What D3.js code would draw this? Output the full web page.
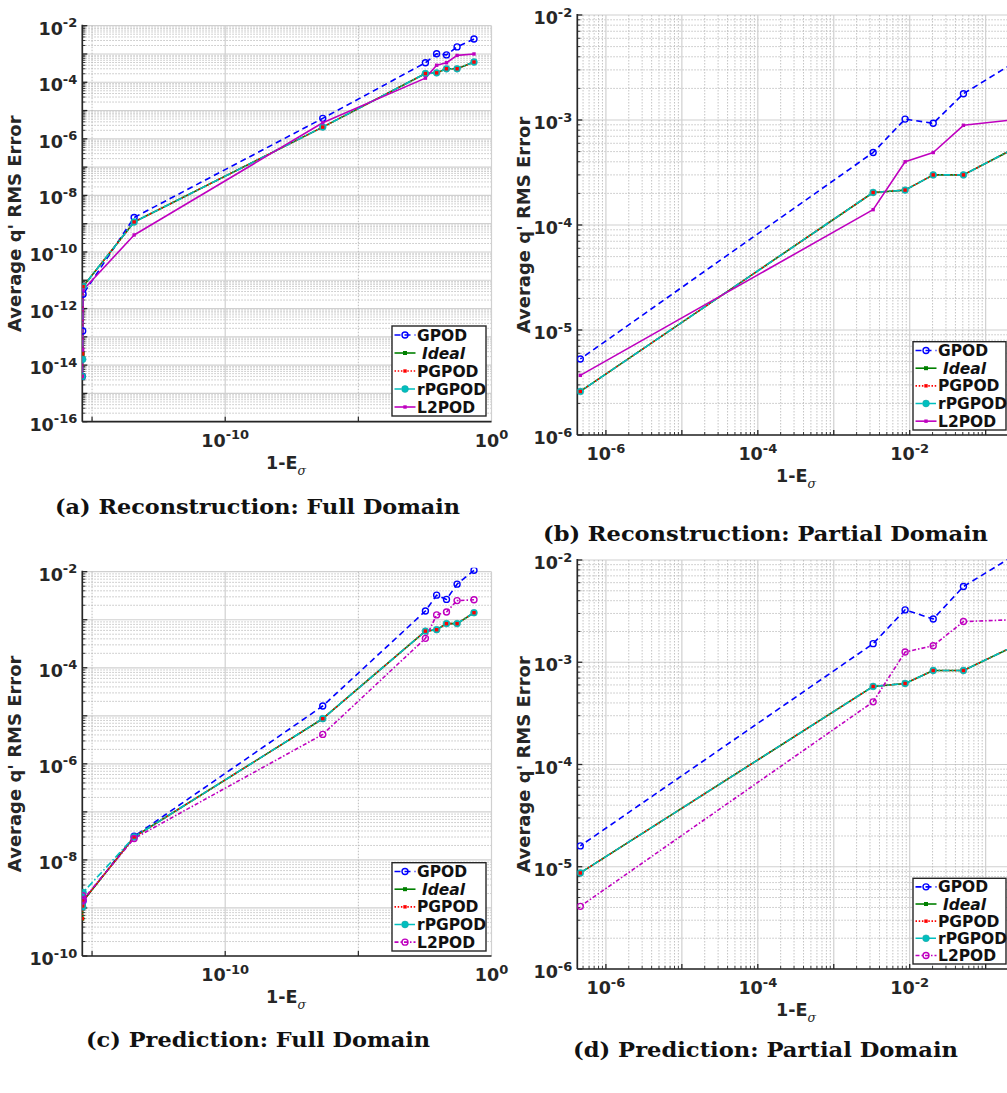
<!DOCTYPE html>
<html><head><meta charset="utf-8">
<script src="https://cdn.jsdelivr.net/npm/d3@7"></script>
<style>body{margin:0;background:#fff}svg{display:block}</style>
</head><body>
<svg id="chart" width="1007" height="1093"></svg>
<script>
// ---------------- DATA ----------------
const seriesNames = ["GPOD", "Ideal", "PGPOD", "rPGPOD", "L2POD"];
// 1 - E_sigma (energy not captured), one entry per retained-mode count
const xEnergy = [0.22, 0.051, 0.0204, 0.0087, 0.0033, 4.6e-7, 3.8e-14, 4.6e-16, 4.45e-16, 4.3e-16];
const partialCount = 6;           // points shown on the partial-domain panels
const xLimFull = [4.3e-16, 1];
const xLimPartial = [4.2e-7, 1];

const reconGPOD   = [3.4e-3, 1.78e-3, 9.3e-4, 1.02e-3, 4.9e-4, 5.3e-6, 1.66e-9, 3.2e-12, 1.6e-13, 4.0e-15];
const reconIdeal  = [5.2e-4, 3.0e-4, 3.0e-4, 2.15e-4, 2.04e-4, 2.6e-6, 1.15e-9, 6.0e-12, 2.5e-14, 4.0e-15];
const reconPGPOD  = [5.2e-4, 3.0e-4, 3.0e-4, 2.15e-4, 2.04e-4, 2.6e-6, 1.15e-9, 6.0e-12, 2.5e-14, 4.0e-15];
const reconRPGPOD = [5.2e-4, 3.0e-4, 3.0e-4, 2.15e-4, 2.04e-4, 2.6e-6, 1.15e-9, 6.0e-12, 1.6e-14, 4.0e-15];
const reconL2POD  = [1.0e-3, 8.9e-4, 4.9e-4, 4.0e-4, 1.4e-4, 3.7e-6, 4.0e-10, 4.5e-12, 3.5e-14, 4.0e-15];

const predGPOD   = [1.07e-2, 5.5e-3, 2.65e-3, 3.25e-3, 1.52e-3, 1.6e-5, 3.1e-8, 1.4e-9, 1.6e-9, 1.1e-9];
const predIdeal  = [1.4e-3, 8.3e-4, 8.3e-4, 6.2e-4, 5.8e-4, 8.7e-6, 3.0e-8, 1.4e-9, 1.1e-9, 6.0e-10];
const predPGPOD  = [1.4e-3, 8.3e-4, 8.3e-4, 6.2e-4, 5.8e-4, 8.7e-6, 3.0e-8, 1.4e-9, 1.1e-9, 6.0e-10];
const predRPGPOD = [1.4e-3, 8.3e-4, 8.3e-4, 6.2e-4, 5.8e-4, 8.7e-6, 3.0e-8, 2.1e-9, 1.05e-9, 1.25e-9];
const predL2POD  = [2.6e-3, 2.5e-3, 1.45e-3, 1.26e-3, 4.1e-4, 4.1e-6, 2.8e-8, 1.5e-9, 1.8e-9, 1.4e-9];

const yLimReconFull = [1e-16, 1e-2];
const yLimPredFull = [1e-10, 1e-2];
const yLimPartial = [1e-6, 1e-2];
const xTickLabelsFull = [1e-10, 1];
const xTickLabelsPartial = [1e-6, 1e-4, 1e-2];
const captions = ["(a) Reconstruction: Full Domain", "(b) Reconstruction: Partial Domain",
                  "(c) Prediction: Full Domain", "(d) Prediction: Partial Domain"];
const yTitle = "Average q' RMS Error";

// ---------------- STYLE / LAYOUT ----------------
const reconSets = [reconGPOD, reconIdeal, reconPGPOD, reconRPGPOD, reconL2POD];
const predSets = [predGPOD, predIdeal, predPGPOD, predRPGPOD, predL2POD];

const styleRecon = [
  {color:"#0000ff", dash:"6,4", marker:"circleOpen"},
  {color:"#008000", dash:null, marker:"square"},
  {color:"#ff0000", dash:"1.5,1.7", marker:"smallSquare"},
  {color:"#00bfbf", dash:"7,2.5,1.5,2.5", marker:"circleFill"},
  {color:"#bf00bf", dash:null, marker:"smallSquare"}
];
const stylePred = styleRecon.map((s,i)=> i===4 ? {color:"#bf00bf", dash:"4,2,1.5,2", marker:"circleOpen"} : s);

const panels = [
  {sets:reconSets, styles:styleRecon, full:true, yLim:yLimReconFull, yStep:2,
   x0:82.3, x1:491.5, y0:25.7, y1:421.7, leg:{x:392,y:326,w:94,h:90},
   cap:captions[0], capX:257.5, capY:514, capLen:405, yTitleX:21},
  {sets:reconSets, styles:styleRecon, full:false, yLim:yLimPartial, yStep:1,
   x0:577.3, x1:1061.6, y0:15, y1:435, leg:{x:913,y:341.7,w:93,h:88.3},
   cap:captions[1], capX:765.5, capY:541, capLen:445, yTitleX:530},
  {sets:predSets, styles:stylePred, full:true, yLim:yLimPredFull, yStep:2,
   x0:82.3, x1:491.5, y0:571.7, y1:956, leg:{x:392,y:862.7,w:94,h:88.3},
   cap:captions[2], capX:258, capY:1047, capLen:344, yTitleX:21},
  {sets:predSets, styles:stylePred, full:false, yLim:yLimPartial, yStep:1,
   x0:577.3, x1:1061.6, y0:560, y1:969, leg:{x:913,y:878.3,w:93,h:85.7},
   cap:captions[3], capX:765.5, capY:1057, capLen:385, yTitleX:530}
];

const svg = d3.select("#chart");
const SANS = "'DejaVu Sans', sans-serif";
const MAJ = "#d0d0d0", MIN = "#b4b4b4";

function drawMarker(g, type, x, y, color) {
  if (type === "circleOpen") {
    g.append("circle").attr("cx",x).attr("cy",y).attr("r",3)
      .attr("fill","none").attr("stroke",color).attr("stroke-width",1.4);
  } else if (type === "circleFill") {
    g.append("circle").attr("cx",x).attr("cy",y).attr("r",3.4)
      .attr("fill",color).attr("stroke","#1aa5a5").attr("stroke-width",0.6);
  } else if (type === "square") {
    g.append("rect").attr("x",x-2).attr("y",y-2).attr("width",4).attr("height",4).attr("fill",color);
  } else {
    g.append("rect").attr("x",x-1.7).attr("y",y-1.7).attr("width",3.4).attr("height",3.4).attr("fill",color);
  }
}

function powLabel(sel, v, fsBase, fsExp) {
  const e = Math.round(Math.log10(v));
  sel.append("tspan").text("10").attr("font-size", fsBase);
  sel.append("tspan").text(String(e)).attr("font-size", fsExp).attr("dy", -7.5);
}

panels.forEach((p, pi) => {
  const g = svg.append("g");
  const xs = d3.scaleLog().domain(p.full ? xLimFull : xLimPartial).range([p.x0, p.x1]);
  const ys = d3.scaleLog().domain(p.yLim).range([p.y1, p.y0]);
  const xr = [p.x0, Math.min(p.x1, 1007)];

  const cid = "clip" + pi;
  svg.append("clipPath").attr("id", cid).append("rect")
    .attr("x", p.x0).attr("y", p.y0 - 4).attr("width", p.x1 - p.x0 + 4).attr("height", p.y1 - p.y0 + 8);

  const grid = g.append("g");
  const ye0 = Math.round(Math.log10(p.yLim[0])), ye1 = Math.round(Math.log10(p.yLim[1]));
  for (let e = ye0; e <= ye1; e++) {
    const v = Math.pow(10, e);
    grid.append("line").attr("x1", xr[0]).attr("x2", xr[1]).attr("y1", ys(v)).attr("y2", ys(v))
      .attr("stroke", MAJ).attr("stroke-width", 1.2);
    if (e < ye1) for (let m = 2; m <= 9; m++) {
      const yy = ys(m * v);
      grid.append("line").attr("x1", xr[0]).attr("x2", xr[1]).attr("y1", yy).attr("y2", yy)
        .attr("stroke", MIN).attr("stroke-width", 0.8).attr("stroke-dasharray", "1.5,1.5");
    }
  }
  if (p.full) {
    [1e-15, 1e-10, 1e-5, 1].forEach(v => {
      const solid = (v === 1e-10 || v === 1);
      grid.append("line").attr("x1", xs(v)).attr("x2", xs(v)).attr("y1", p.y0).attr("y2", p.y1)
        .attr("stroke", solid ? MAJ : MIN).attr("stroke-width", solid ? 1.2 : 0.9)
        .attr("stroke-dasharray", solid ? null : "1.5,1.5");
    });
  } else {
    for (let e = -7; e <= 0; e++) {
      const v = Math.pow(10, e);
      if (v >= xLimPartial[0]) grid.append("line").attr("x1", xs(v)).attr("x2", xs(v)).attr("y1", p.y0).attr("y2", p.y1)
        .attr("stroke", MAJ).attr("stroke-width", 1.2);
      if (e < 0) for (let m = 2; m <= 9; m++) {
        const vv = m * v;
        if (vv < xLimPartial[0]) continue;
        grid.append("line").attr("x1", xs(vv)).attr("x2", xs(vv)).attr("y1", p.y0).attr("y2", p.y1)
          .attr("stroke", MIN).attr("stroke-width", 0.8).attr("stroke-dasharray", "1.5,1.5");
      }
    }
  }

  const ax = g.append("g").attr("stroke", "#262626");
  ax.append("line").attr("x1", p.x0).attr("x2", p.x0).attr("y1", p.y0 - 1).attr("y2", p.y1).attr("stroke-width", 1.7);
  ax.append("line").attr("x1", p.x0).attr("x2", xr[1]).attr("y1", p.y1).attr("y2", p.y1).attr("stroke-width", 1.7);
  for (let e = ye0; e <= ye1; e++) {
    const v = Math.pow(10, e);
    ax.append("line").attr("x1", p.x0).attr("x2", p.x0 + 5).attr("y1", ys(v)).attr("y2", ys(v)).attr("stroke-width", 1.3);
    if (e < ye1) for (let m = 2; m <= 9; m++)
      ax.append("line").attr("x1", p.x0).attr("x2", p.x0 + 3).attr("y1", ys(m*v)).attr("y2", ys(m*v)).attr("stroke-width", 0.9);
  }
  if (!p.full) {
    for (let e = -7; e <= 0; e++) {
      const v = Math.pow(10, e);
      if (v >= xLimPartial[0]) ax.append("line").attr("x1", xs(v)).attr("x2", xs(v)).attr("y1", p.y1).attr("y2", p.y1 - 5).attr("stroke-width", 1.3);
      if (e < 0) for (let m = 2; m <= 9; m++) {
        if (m*v < xLimPartial[0]) continue;
        ax.append("line").attr("x1", xs(m*v)).attr("x2", xs(m*v)).attr("y1", p.y1).attr("y2", p.y1 - 3).attr("stroke-width", 0.9);
      }
    }
  } else {
    [1e-15, 1e-10, 1e-5].forEach(v => ax.append("line").attr("x1", xs(v)).attr("x2", xs(v)).attr("y1", p.y1).attr("y2", p.y1 - 5).attr("stroke-width", 1.2));
  }

  for (let e = ye0; e <= ye1; e += p.yStep) {
    const t = g.append("text").attr("x", p.x0 - 5).attr("y", ys(Math.pow(10, e)) + 9)
      .attr("text-anchor", "end").attr("font-family", SANS).attr("font-weight", "bold").attr("fill", "#262626");
    powLabel(t, Math.pow(10, e), 17.5, 13);
  }
  (p.full ? xTickLabelsFull : xTickLabelsPartial).forEach(v => {
    const t = g.append("text").attr("x", xs(v)).attr("y", p.y1 + 25)
      .attr("text-anchor", "middle").attr("font-family", SANS).attr("font-weight", "bold").attr("fill", "#262626");
    powLabel(t, v, 17.5, 13);
  });

  g.append("text").attr("transform", `translate(${p.yTitleX},${(p.y0 + p.y1) / 2}) rotate(-90)`)
    .attr("text-anchor", "middle").attr("font-family", SANS).attr("font-weight", "bold").attr("font-size", 18)
    .attr("fill", "#262626").text(yTitle);
  const xt = g.append("text").attr("x", p.full ? 266 : 776).attr("y", p.y1 + 47)
    .attr("font-family", SANS).attr("font-weight", "bold").attr("font-size", 17.5).attr("fill", "#262626");
  xt.append("tspan").text("1-E");
  xt.append("tspan").text("σ").attr("font-family", "'DejaVu Serif', serif").attr("font-style", "italic")
    .attr("font-weight", "normal").attr("font-size", 12.5).attr("dy", 6);

  const plot = g.append("g").attr("clip-path", `url(#${cid})`);
  const n = p.full ? xEnergy.length : partialCount;
  const line = d3.line().x(d => xs(d[0])).y(d => ys(d[1]));
  p.sets.forEach((vals, si) => {
    const st = p.styles[si];
    const pts = xEnergy.slice(0, n).map((x, i) => [x, vals[i]]);
    plot.append("path").attr("d", line(pts)).attr("fill", "none").attr("stroke", st.color)
      .attr("stroke-width", 1.6).attr("stroke-linejoin", "round")
      .attr("stroke-dasharray", st.dash);
  });
  [0, 1, 3, 2, 4].forEach(si => {
    const st = p.styles[si];
    const vals = p.sets[si];
    xEnergy.slice(0, n).forEach((x, i) => drawMarker(plot, st.marker, xs(x), ys(vals[i]), st.color));
  });

  const L = p.leg;
  const lg = g.append("g");
  lg.append("rect").attr("x", L.x).attr("y", L.y).attr("width", L.w).attr("height", L.h)
    .attr("fill", "#fff").attr("stroke", "#262626").attr("stroke-width", 1.4);
  const rowH = L.h / 5;
  seriesNames.forEach((name, si) => {
    const st = p.styles[si];
    const cy = L.y + rowH * (si + 0.5);
    lg.append("line").attr("x1", L.x + 2.5).attr("x2", L.x + 23.5).attr("y1", cy).attr("y2", cy)
      .attr("stroke", st.color).attr("stroke-width", 1.6).attr("stroke-dasharray", st.dash);
    drawMarker(lg, st.marker, L.x + 13, cy, st.color);
    lg.append("text").attr("x", L.x + (name === "Ideal" ? 30 : 25)).attr("y", cy + 5.5)
      .attr("font-family", SANS).attr("font-weight", "bold").attr("font-size", 15.5)
      .attr("font-style", name === "Ideal" ? "italic" : "normal").attr("fill", "#111").text(name);
  });

  svg.append("text").attr("x", p.capX).attr("y", p.capY).attr("text-anchor", "middle")
    .attr("font-family", "'DejaVu Serif', serif").attr("font-weight", "bold").attr("font-size", 21)
    .attr("textLength", p.capLen).attr("lengthAdjust", "spacingAndGlyphs").attr("fill", "#111").text(p.cap);
});
</script>
</body></html>
